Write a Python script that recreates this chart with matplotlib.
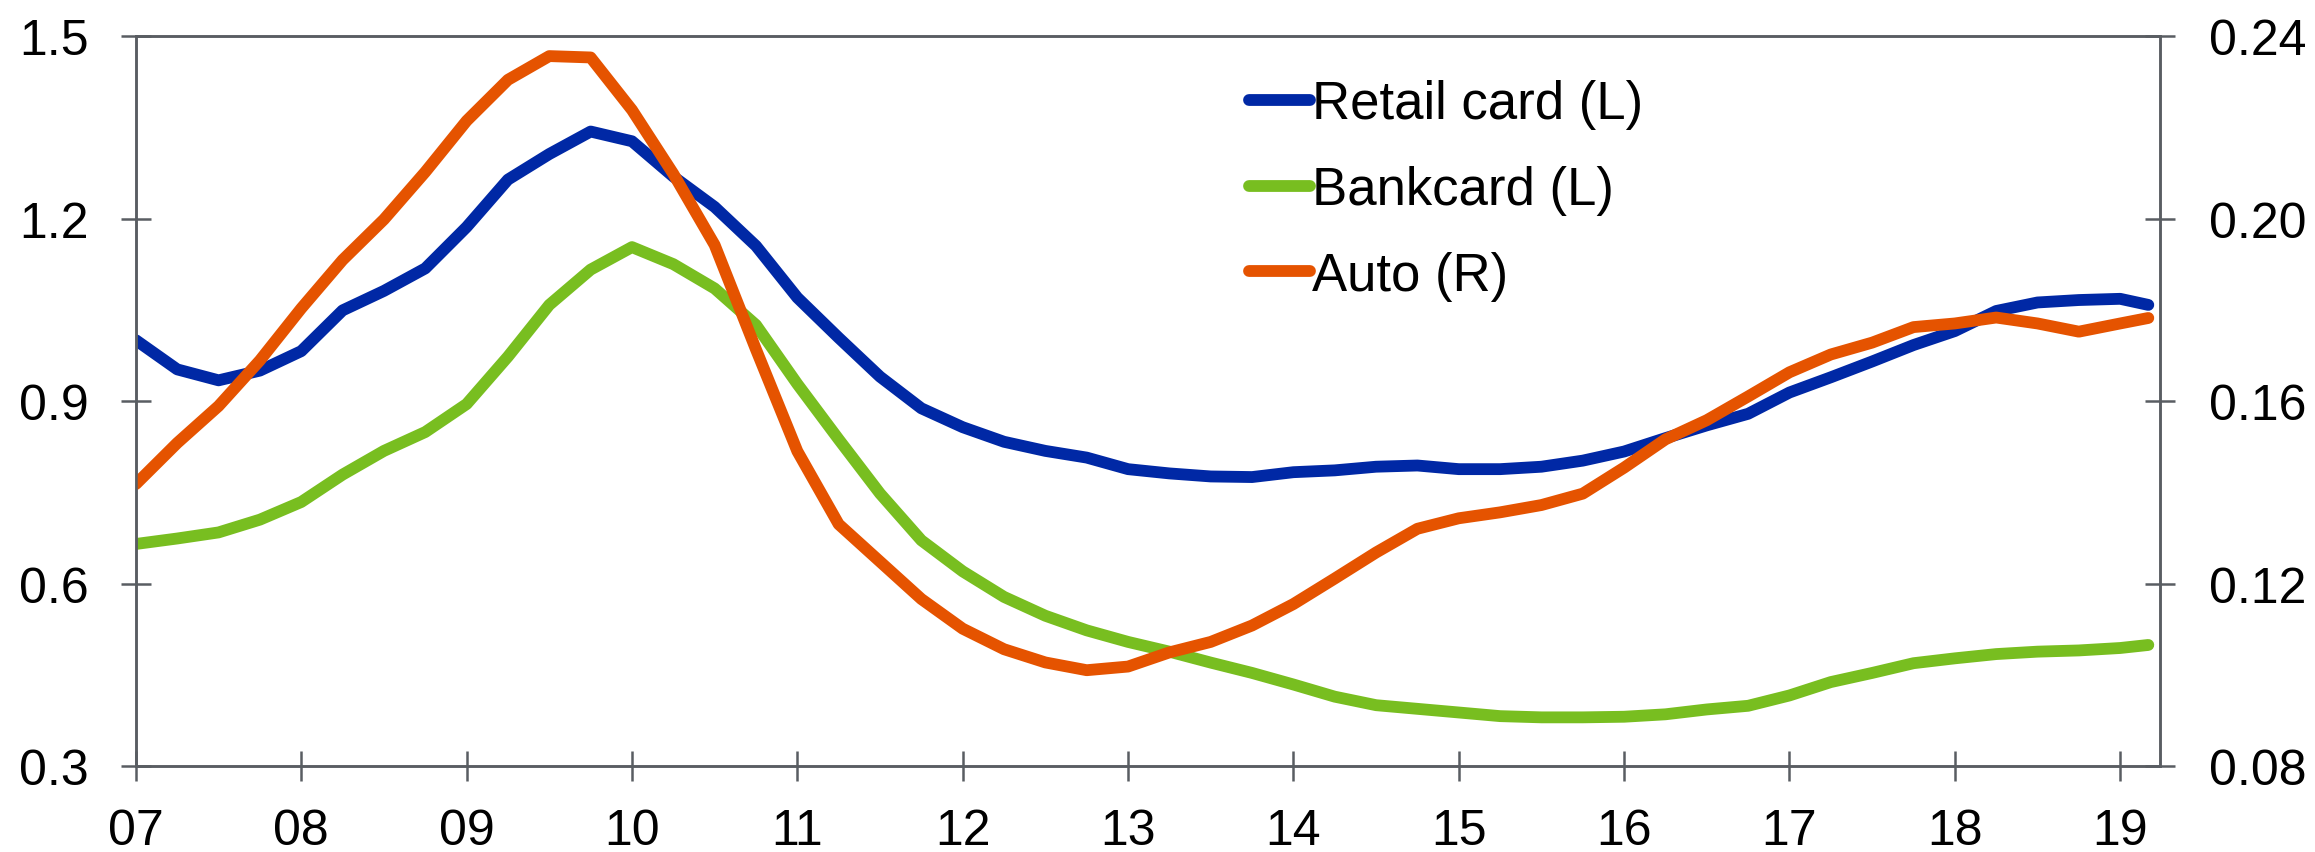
import numpy as np
import matplotlib
matplotlib.use("Agg")
import matplotlib.pyplot as plt

plt.rcParams['font.family'] = ['Liberation Sans', 'DejaVu Sans']

# quarterly observations, last one is Feb/Mar 2019
dates = [2007 + i / 4 for i in range(49)] + [2019.17]

retail_card = [1.000, 0.952, 0.934, 0.950, 0.982, 1.049, 1.081, 1.118, 1.186, 1.264,
               1.306, 1.343, 1.327, 1.269, 1.219, 1.155, 1.070, 1.004, 0.940, 0.888,
               0.857, 0.833, 0.818, 0.807, 0.788, 0.781, 0.776, 0.775, 0.783, 0.786,
               0.792, 0.794, 0.788, 0.788, 0.792, 0.802, 0.817, 0.839, 0.860, 0.879,
               0.914, 0.939, 0.965, 0.992, 1.015, 1.048, 1.062, 1.066, 1.068, 1.058]

bankcard = [0.665, 0.674, 0.684, 0.705, 0.734, 0.779, 0.818, 0.849, 0.895, 0.973,
            1.058, 1.116, 1.153, 1.125, 1.085, 1.025, 0.928, 0.837, 0.748, 0.671,
            0.620, 0.578, 0.547, 0.523, 0.504, 0.488, 0.470, 0.453, 0.434, 0.414,
            0.400, 0.394, 0.388, 0.382, 0.380, 0.380, 0.381, 0.385, 0.393, 0.399,
            0.416, 0.438, 0.453, 0.469, 0.477, 0.484, 0.488, 0.490, 0.494, 0.499]

auto = [0.1418, 0.1508, 0.1589, 0.1689, 0.1803, 0.1909, 0.1998, 0.2102, 0.2214, 0.2304,
        0.2356, 0.2353, 0.2238, 0.2098, 0.1942, 0.1713, 0.1490, 0.1330, 0.1248, 0.1166,
        0.1101, 0.1056, 0.1027, 0.1010, 0.1018, 0.1049, 0.1072, 0.1108, 0.1155, 0.1211,
        0.1268, 0.1320, 0.1343, 0.1356, 0.1372, 0.1397, 0.1454, 0.1516, 0.1558, 0.1610,
        0.1663, 0.1702, 0.1728, 0.1762, 0.1770, 0.1783, 0.1770, 0.1752, 0.1770, 0.1782]

year_ticks = list(range(2007, 2020))
year_labels = ["07", "08", "09", "10", "11", "12", "13", "14", "15", "16", "17", "18", "19"]
left_ticks = [0.3, 0.6, 0.9, 1.2, 1.5]
right_ticks = [0.08, 0.12, 0.16, 0.20, 0.24]

blue = "#0028A5"
green = "#78BE20"
orange = "#E55300"
axis_col = "#595D62"

fig = plt.figure(figsize=(23.15, 8.53), dpi=100)
ax = fig.add_axes([0.0587, 0.1008, 0.8743, 0.8558])
ax2 = ax.twinx()

style = dict(lw=8.5, solid_capstyle="round", solid_joinstyle="round")
l1, = ax.plot(dates, retail_card, color=blue, label="Retail card (L)", **style)
l2, = ax.plot(dates, bankcard, color=green, label="Bankcard (L)", **style)
l3, = ax2.plot(dates, auto, color=orange, label="Auto (R)", **style)

ax.set_xlim(2007, 2019.24)
ax.set_ylim(0.3, 1.5)
ax2.set_ylim(0.08, 0.24)

ax.set_xticks(year_ticks)
ax.set_xticklabels(year_labels)
ax.set_yticks(left_ticks)
ax.set_yticklabels(["0.3", "0.6", "0.9", "1.2", "1.5"])
ax2.set_yticks(right_ticks)
ax2.set_yticklabels(["0.08", "0.12", "0.16", "0.20", "0.24"])

for a in (ax, ax2):
    for s in a.spines.values():
        s.set_color(axis_col)
        s.set_linewidth(1.8)
    a.tick_params(direction="inout", length=22, width=1.8, color=axis_col,
                  labelsize=36, labelcolor="black")
ax.tick_params(axis="y", pad=23)
ax.tick_params(axis="x", pad=19)
ax2.tick_params(axis="y", pad=24)

leg = fig.legend(handles=[l1, l2, l3], loc="upper left", bbox_to_anchor=(0.5395, 0.906),
                 frameon=False, fontsize=38, handlelength=1.15, handletextpad=0.05,
                 labelspacing=0.68, borderpad=0, borderaxespad=0)
for h in leg.get_lines():
    h.set_solid_capstyle("round")

fig.savefig("out.png", dpi=100)
